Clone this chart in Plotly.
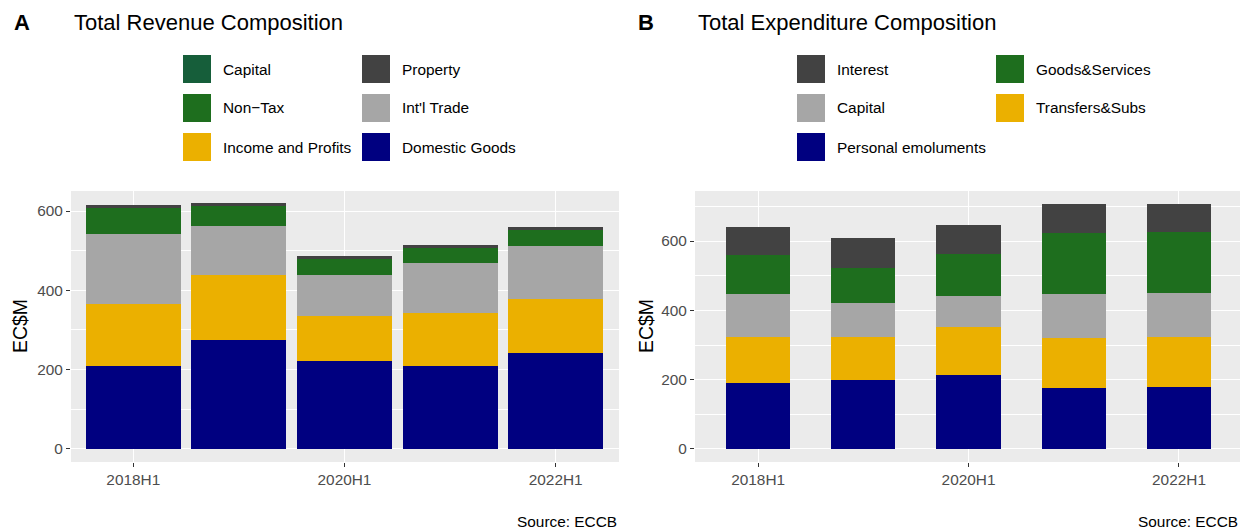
import plotly.graph_objects as go

W, H = 1244, 529

periods = ["2018H1", "2019H1", "2020H1", "2021H1", "2022H1"]
tick_periods = ["2018H1", "2020H1", "2022H1"]

# Revenue (EC$M), stacked bottom -> top
rev_domestic = [209, 275, 221, 209, 242]
rev_income = [157, 163, 114, 134, 136]
rev_trade = [176, 124, 103, 126, 133]
rev_nontax = [66, 52, 40, 40, 42]
rev_property = [7.6, 6, 7.6, 5, 6.8]
rev_capital = [0, 0, 0, 0, 0]

# Expenditure (EC$M), stacked bottom -> top
exp_personal = [190, 198, 213, 175, 178]
exp_transfers = [133, 124, 139, 145, 144]
exp_capital = [124, 98, 90, 126, 127]
exp_goods = [113, 101, 121, 176, 176]
exp_interest = [81, 87, 84, 84, 83]

C_NAVY = "#000080"
C_GOLD = "#EBB000"
C_GREY = "#A6A6A6"
C_GREEN = "#1E6E1E"
C_DARK = "#424242"
C_CAPG = "#165E3A"

rev_series = [
    ("Domestic Goods", rev_domestic, C_NAVY),
    ("Income and Profits", rev_income, C_GOLD),
    ("Int'l Trade", rev_trade, C_GREY),
    ("Non\u2212Tax", rev_nontax, C_GREEN),
    ("Property", rev_property, C_DARK),
    ("Capital", rev_capital, C_CAPG),
]
rev_legend = ["Capital", "Property", "Non\u2212Tax", "Int'l Trade", "Income and Profits", "Domestic Goods"]

exp_series = [
    ("Personal emoluments", exp_personal, C_NAVY),
    ("Transfers&Subs", exp_transfers, C_GOLD),
    ("Capital", exp_capital, C_GREY),
    ("Goods&Services", exp_goods, C_GREEN),
    ("Interest", exp_interest, C_DARK),
]
exp_legend = ["Interest", "Goods&Services", "Capital", "Transfers&Subs", "Personal emoluments"]

FONT = "Liberation Sans, Arial, sans-serif"
SMALL = 15.4

fig = go.Figure()
for name, vals, col in rev_series:
    fig.add_trace(go.Bar(x=periods, y=vals, name=name, marker=dict(color=col, line=dict(width=0)),
                         width=0.9, xaxis="x", yaxis="y", showlegend=False))
for name, vals, col in exp_series:
    fig.add_trace(go.Bar(x=periods, y=vals, name=name, marker=dict(color=col, line=dict(width=0)),
                         width=0.61, xaxis="x2", yaxis="y2", showlegend=False))

def px_x(p):
    return p / W

def px_y(p):
    return 1 - p / H

plot_top, plot_bot = 191, 462
axA = (71, 619)
axB = (695, 1240)

common_x = dict(type="category", categoryorder="array", categoryarray=periods,
                tickvals=tick_periods, ticktext=tick_periods, range=[-0.59, 4.6],
                showgrid=True, gridcolor="white", gridwidth=1.3,
                ticks="outside", ticklen=4, tickcolor="#333333", tickwidth=1.1,
                tickfont=dict(size=SMALL, color="#4D4D4D", family=FONT),
                zeroline=False, showline=False, fixedrange=True)
common_y = dict(showgrid=True, gridcolor="white", gridwidth=1.3, dtick=200,
                minor=dict(dtick=100, showgrid=True, gridcolor="white", gridwidth=0.6),
                ticks="outside", ticklen=4, tickcolor="#333333", tickwidth=1.1,
                tickfont=dict(size=SMALL, color="#4D4D4D", family=FONT),
                zeroline=False, showline=False)

fig.update_layout(
    width=W, height=H, margin=dict(l=0, r=0, t=0, b=0),
    paper_bgcolor="white", plot_bgcolor="#EBEBEB",
    barmode="stack", bargap=0,
    font=dict(family=FONT, color="black"),
    xaxis=dict(common_x, domain=[px_x(axA[0]), px_x(axA[1])], anchor="y"),
    yaxis=dict(common_y, domain=[px_y(plot_bot), px_y(plot_top)], anchor="x", range=[-33.6, 650.7]),
    xaxis2=dict(common_x, domain=[px_x(axB[0]), px_x(axB[1])], anchor="y2", range=[-0.6, 4.58]),
    yaxis2=dict(common_y, domain=[px_y(plot_bot), px_y(plot_top)], anchor="x2", range=[-37.6, 744.6]),
)

ann = []
shapes = []

def add_text(x, y, text, size, xanchor="left", yanchor="middle", bold=False, angle=0, color="black"):
    ann.append(dict(x=px_x(x), y=px_y(y), xref="paper", yref="paper", text=("<b>%s</b>" % text) if bold else text,
                    showarrow=False, xanchor=xanchor, yanchor=yanchor, textangle=angle,
                    font=dict(size=size, color=color, family=FONT)))

# Panel labels and titles
add_text(12, 23, "A", 22, bold=True)
add_text(72, 23, "Total Revenue Composition", 22)
add_text(636, 23, "B", 22, bold=True)
add_text(696, 23, "Total Expenditure Composition", 22)

# Y axis titles
add_text(20, 326, "EC$M", 19.4, xanchor="center", angle=-90)
add_text(646, 326, "EC$M", 19.4, xanchor="center", angle=-90)

# Sources
add_text(619, 521, "Source: ECCB", SMALL, xanchor="right")
add_text(1240, 521, "Source: ECCB", SMALL, xanchor="right")

# Manual legends (2 columns, by row)
def legend(names, series, key_x_cols, top_y):
    colors = {n: c for n, _, c in series}
    for i, n in enumerate(names):
        r, c = divmod(i, 2)
        kx = key_x_cols[c]
        cy = top_y + r * 39
        shapes.append(dict(type="rect", xref="paper", yref="paper",
                           x0=px_x(kx), x1=px_x(kx + 28), y0=px_y(cy + 14), y1=px_y(cy - 14),
                           fillcolor=colors[n], line=dict(width=0)))
        add_text(kx + 38, cy, n, SMALL)

legend(rev_legend, rev_series, [183, 362], 69)
legend(exp_legend, exp_series, [797, 996], 69)

fig.update_layout(annotations=ann, shapes=shapes)
fig.write_html("out.html", config={"displayModeBar": False},
               post_script="document.body.style.margin='0';document.body.style.overflow='hidden';")
